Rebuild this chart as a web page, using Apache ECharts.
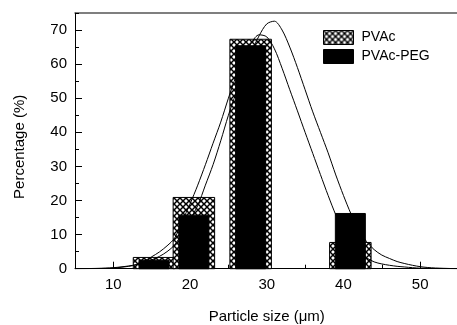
<!DOCTYPE html>
<html>
<head>
<meta charset="utf-8">
<script src="https://cdn.jsdelivr.net/npm/echarts@6/dist/echarts.min.js"></script>
<style>
  html, body { margin: 0; padding: 0; background: #fff; }
  #chart { width: 457px; height: 325px; }
</style>
</head>
<body>
<div id="chart"></div>
<script>
// histogram bars: [size (um), percentage]
const pvacBars = [[15.3, 3.3], [20.5, 20.9], [27.9, 67.3], [40.9, 7.7]];
const pegBars = [[15.3, 2.5], [20.5, 15.7], [27.9, 65.4], [40.9, 16.2]];

// fitted distribution curves
const fitNarrow = [
  [5, 0], [8, 0.05], [10, 0.2], [12, 0.7], [13, 1.2], [14, 2.2], [15, 3.5], [16, 4.9],
  [17, 6.7], [18, 9], [19, 14], [20, 19], [21, 24.5], [22, 30.5], [23, 36.8], [24, 43],
  [25, 50], [26, 56.5], [27, 62], [28, 66.3], [29, 68.6], [30, 68], [31, 64.5], [32, 58.8],
  [33, 52.5], [34, 46.3], [35, 40], [36, 33.8], [37, 27.6], [38, 21.5], [39, 15.8],
  [40, 11], [41, 7.5], [42, 5], [43, 3.2], [44, 2], [45, 1.4], [46, 1], [47, 0.7],
  [48, 0.5], [49, 0.3], [50, 0.15], [52, 0.05], [55, 0]
];
const fitWide = [
  [5, 0], [8, 0.1], [10, 0.3], [12, 0.8], [13, 1.2], [14, 1.8], [15, 2.6], [16, 3.6],
  [17, 5], [18, 7], [19, 10.5], [20, 14.5], [21, 18.5], [22, 24.5], [23, 30.5], [24, 37.5],
  [25, 45], [26, 51.5], [27, 57.5], [28, 63.5], [29, 68.3], [30, 71.8], [31, 72.6],
  [32, 70], [33, 65], [34, 59], [35, 52.5], [36, 46], [37, 40], [38, 34], [39, 27.5],
  [40, 21.5], [41, 16], [42, 11.5], [43, 8], [44, 5.6], [45, 4], [46, 3], [47, 2.1],
  [48, 1.5], [49, 1], [50, 0.6], [51, 0.35], [52, 0.2], [54, 0.05], [55, 0]
];

const xMajor = [10, 20, 30, 40, 50];
const yMajor = [0, 10, 20, 30, 40, 50, 60, 70];

const makeHatch = () => {
  const c = document.createElement('canvas');
  c.width = 6;
  c.height = 6;
  const ctx = c.getContext('2d');
  ctx.fillStyle = '#fff';
  ctx.fillRect(0, 0, 6, 6);
  ctx.strokeStyle = '#000';
  ctx.lineWidth = 1.5;
  ctx.beginPath();
  ctx.moveTo(-1, -1); ctx.lineTo(7, 7);
  ctx.moveTo(7, -1); ctx.lineTo(-1, 7);
  ctx.stroke();
  return { image: c, repeat: 'repeat' };
};
const hatch = makeHatch();

const barRenderer = (width, fill) => (params, api) => {
  const top = api.coord([api.value(0), api.value(1)]);
  const base = api.coord([api.value(0), 0]);
  return {
    type: 'rect',
    shape: { x: top[0] - width / 2, y: top[1], width: width, height: base[1] - top[1] },
    style: { fill: fill, stroke: '#000', lineWidth: 1 }
  };
};

const font = { fontFamily: 'Liberation Sans, Arial, sans-serif', color: '#000' };

const chart = echarts.init(document.getElementById('chart'), null, { renderer: 'canvas' });

chart.setOption({
  animation: false,
  backgroundColor: '#fff',
  grid: { left: 75, top: 13, width: 383.5, height: 255.7, outerBoundsMode: 'none' },
  legend: {
    orient: 'vertical',
    left: 323,
    top: 30,
    padding: 0,
    itemWidth: 30,
    itemHeight: 14,
    itemGap: 4,
    textStyle: { ...font, fontSize: 14, padding: [0, 0, 0, 3] },
    data: [
      { name: 'PVAc', icon: 'rect', itemStyle: { color: hatch, borderColor: '#000', borderWidth: 1 } },
      { name: 'PVAc-PEG', icon: 'rect', itemStyle: { color: '#000', borderColor: '#000', borderWidth: 1 } }
    ]
  },
  xAxis: [
    {
      type: 'value',
      min: 5,
      max: 55,
      name: 'Particle size (\u03bcm)',
      nameLocation: 'middle',
      nameGap: 41,
      nameTextStyle: { ...font, fontSize: 15 },
      axisLine: { lineStyle: { color: '#000', width: 1 } },
      axisTick: { inside: true, length: 7, customValues: xMajor, lineStyle: { color: '#000' } },
      axisLabel: { customValues: xMajor, margin: 9, ...font, fontSize: 15 },
      splitLine: { show: false }
    },
    {
      type: 'value',
      min: 5,
      max: 55,
      interval: 5,
      position: 'bottom',
      axisLine: { show: false },
      axisTick: { inside: true, length: 4, lineStyle: { color: '#000' } },
      axisLabel: { show: false },
      splitLine: { show: false }
    },
    {
      type: 'value',
      min: 5,
      max: 55,
      position: 'top',
      axisLine: { lineStyle: { color: '#555', width: 1.5 } },
      axisTick: { show: false },
      axisLabel: { show: false },
      splitLine: { show: false }
    }
  ],
  yAxis: [
    {
      type: 'value',
      min: 0,
      max: 75,
      name: 'Percentage (%)',
      nameLocation: 'middle',
      nameGap: 48,
      nameTextStyle: { ...font, fontSize: 15, padding: [0, 12, 0, 0] },
      axisLine: { show: true, lineStyle: { color: '#000', width: 1 } },
      axisTick: { show: true, inside: true, length: 7, customValues: yMajor, lineStyle: { color: '#000' } },
      axisLabel: { customValues: yMajor, margin: 8, ...font, fontSize: 15 },
      splitLine: { show: false }
    },
    {
      type: 'value',
      min: 0,
      max: 75,
      interval: 5,
      position: 'left',
      axisLine: { show: false },
      axisTick: { show: true, inside: true, length: 4, lineStyle: { color: '#000' } },
      axisLabel: { show: false },
      splitLine: { show: false }
    }
  ],
  series: [
    {
      name: 'PVAc',
      type: 'custom',
      renderItem: barRenderer(41.5, hatch),
      itemStyle: { color: hatch, borderColor: '#000', borderWidth: 1 },
      encode: { x: 0, y: 1 },
      data: pvacBars,
      z: 2
    },
    {
      name: 'PVAc-PEG',
      type: 'custom',
      renderItem: barRenderer(30, '#000'),
      itemStyle: { color: '#000' },
      encode: { x: 0, y: 1 },
      data: pegBars,
      z: 2
    },
    {
      name: 'fit1',
      type: 'line',
      smooth: 0.3,
      showSymbol: false,
      lineStyle: { color: '#000', width: 1 },
      data: fitNarrow,
      z: 3
    },
    {
      name: 'fit2',
      type: 'line',
      smooth: 0.3,
      showSymbol: false,
      lineStyle: { color: '#000', width: 1 },
      data: fitWide,
      z: 3
    }
  ]
});
</script>
</body>
</html>
